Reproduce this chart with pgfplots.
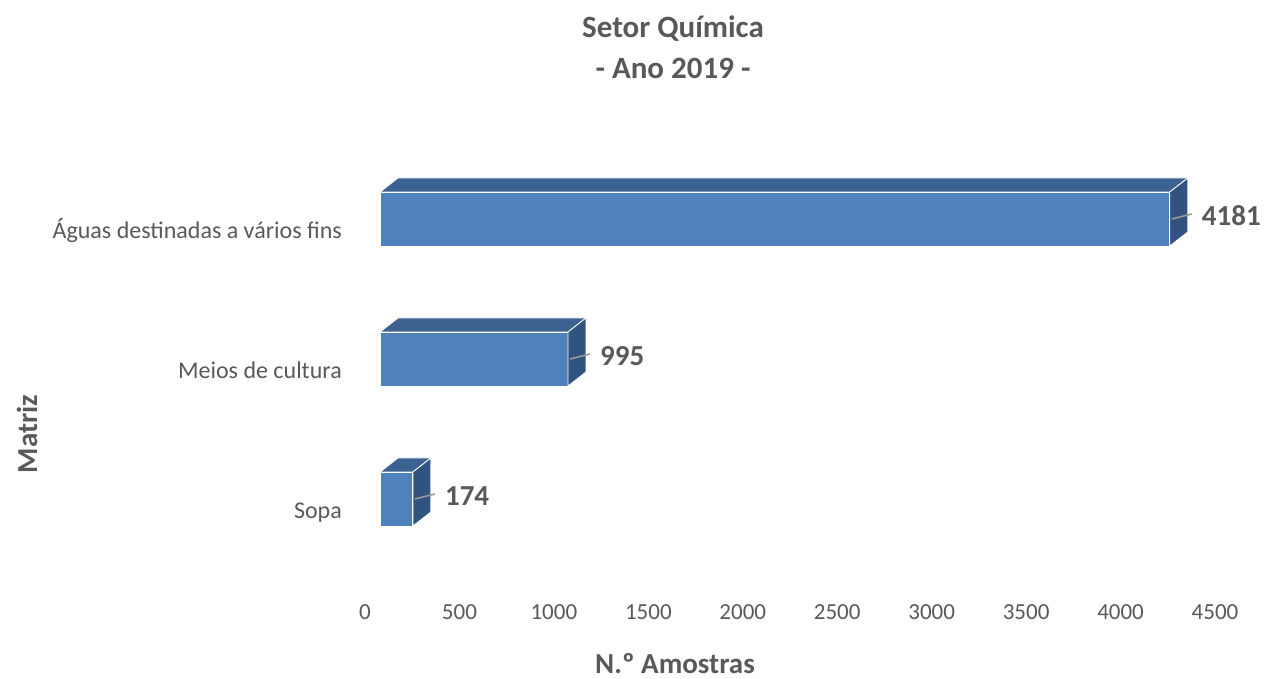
\documentclass[border=0pt]{standalone}
\usepackage{fontspec}
\setmainfont{Carlito}
\usepackage{pgfplots}
\usepackage{pgfplotstable}
\pgfplotsset{compat=1.18}

\definecolor{txt}{HTML}{595959}
\definecolor{frontf}{HTML}{4F81BD}
\definecolor{topf}{HTML}{3C6292}
\definecolor{sidef}{HTML}{31537F}
\definecolor{leader}{HTML}{9A9A9A}

% amostras por matriz (c = posicao da categoria)
\pgfplotstableread{
v    c
4181 2
995  1
174  0
}\amostras

\begin{document}
\begin{tikzpicture}[x=1pt,y=1pt]
\useasboundingbox (0,0) rectangle (1265,679);
\begin{axis}[
  at={(380pt,75pt)}, anchor=south west,
  scale only axis, width=850pt, height=469pt,
  xmin=0, xmax=4500, ymin=-0.75, ymax=2.6,
  clip=false,
  axis line style={draw=none},
  tick style={draw=none},
  major tick length=0pt,
  xtick={0,500,...,4500},
  ytick={0,1,2},
  yticklabels={Sopa,Meios de cultura,Águas destinadas a vários fins},
  scaled x ticks=false,
  /pgf/number format/1000 sep={},
  /pgf/number format/assume math mode=true,
  xticklabel style={font=\fontsize{23}{28}\selectfont, text=txt, inner sep=0pt, xshift=-15pt},
  yticklabel style={font=\fontsize{24}{29}\selectfont, text=txt, inner sep=0pt, anchor=base east, xshift=-38pt, yshift=-20pt},
]
% face da frente
\addplot[xbar, bar width=54pt, fill=frontf, draw=white, line width=0.8pt]
  table[x=v, y=c] {\amostras};
% topo, lado, linha de chamada e rotulo
\addplot[scatter, only marks, mark=*, mark size=0pt,
  point meta=explicit symbolic,
  scatter/@pre marker code/.code={%
    \pgfmathsetmacro\len{\pgfplotspointmeta*0.188889}%
    \fill[topf, draw=white, line width=0.8pt] ({-\len pt},27pt) -- (0pt,27pt) -- (18pt,41pt) -- ({18pt-\len pt},41pt) -- cycle;
    \fill[sidef, draw=white, line width=0.8pt] (0pt,-27pt) -- (0pt,27pt) -- (18pt,41pt) -- (18pt,-13pt) -- cycle;
    \draw[leader, line width=1.6pt] (2pt,0pt) -- (22pt,5pt);
    \node[anchor=west, inner sep=0pt, text=txt, font=\bfseries\fontsize{29}{35}\selectfont] at (32pt,3pt) {\pgfplotspointmeta};
  },
  scatter/@post marker code/.code={}]
  table[x=v, y=c, meta=v] {\amostras};
\end{axis}
\node[font=\bfseries\fontsize{31}{41}\selectfont, text=txt, align=center] at (673,632) {Setor Química\\- Ano 2019 -};
\node[font=\bfseries\fontsize{29}{34}\selectfont, text=txt] at (675,15) {N.º Amostras};
\node[font=\bfseries\fontsize{29}{34}\selectfont, text=txt, rotate=90] at (27,245) {Matriz};
\end{tikzpicture}
\end{document}
